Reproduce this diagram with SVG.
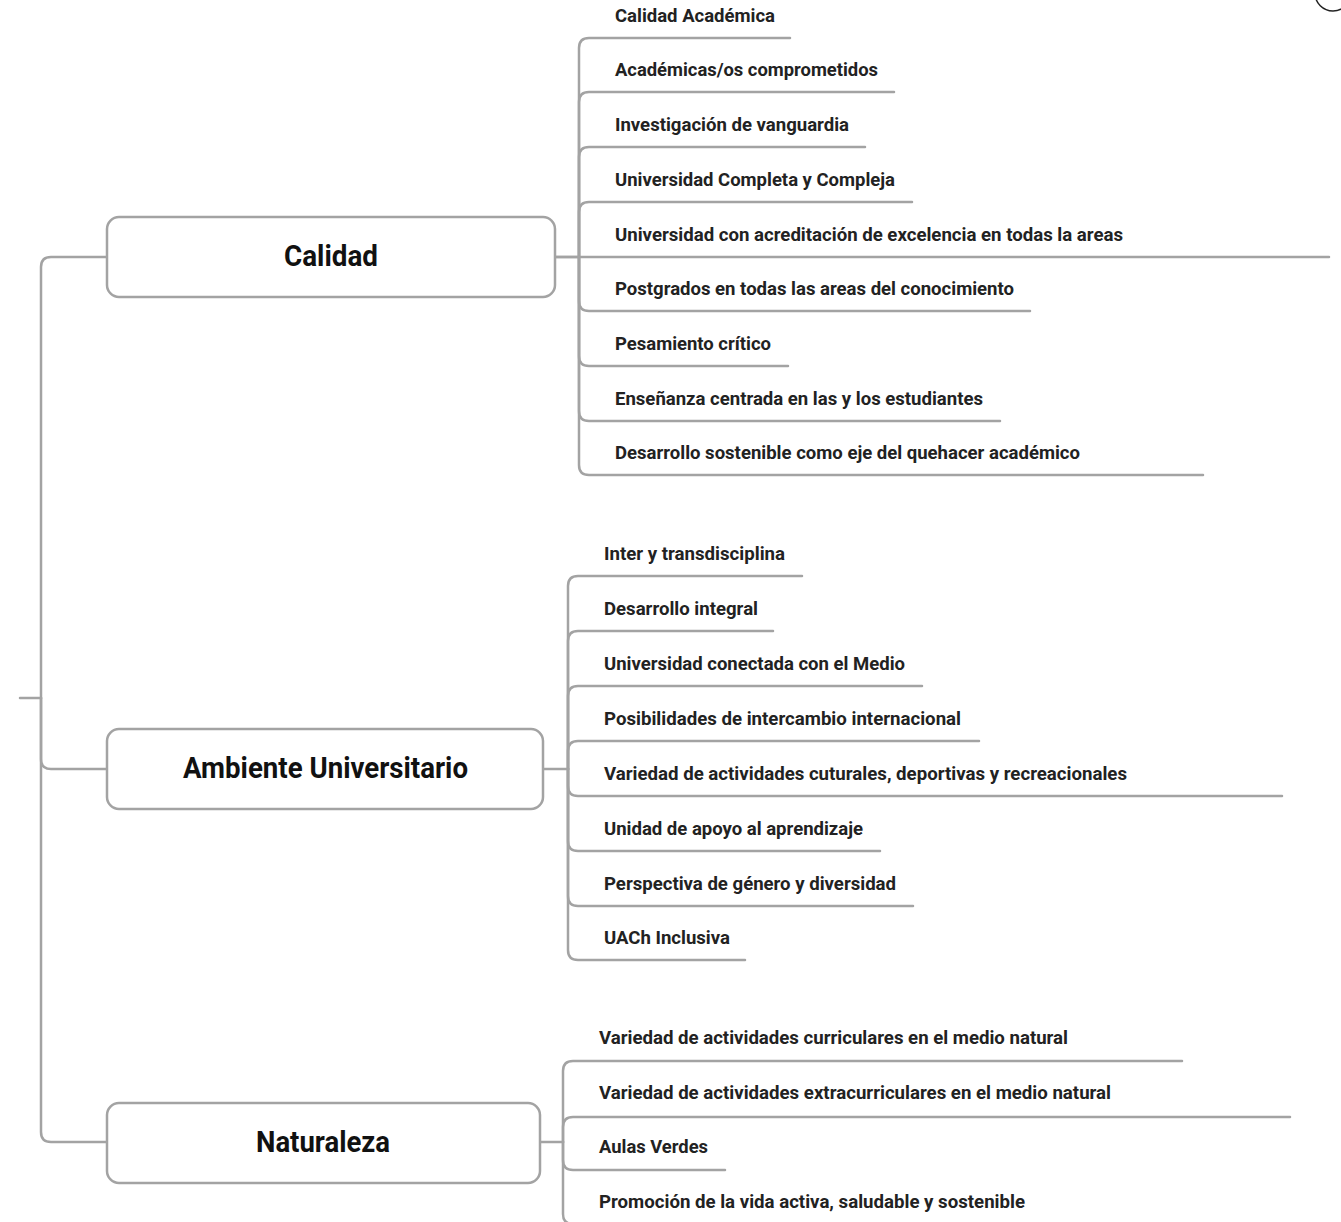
<svg xmlns="http://www.w3.org/2000/svg" width="1341" height="1222" viewBox="0 0 1341 1222">
<style>
.bg{fill:#ffffff}
.box{fill:#ffffff;stroke:#a3a3a3;stroke-width:2.5}
.ln{fill:none;stroke:#a3a3a3;stroke-width:2.5;stroke-linecap:round}
.title{font-family:Roboto,"DejaVu Sans Condensed","Liberation Sans",sans-serif;font-weight:bold;font-size:29px;fill:#111;text-anchor:start}
.item{font-family:Roboto,"DejaVu Sans Condensed","Liberation Sans",sans-serif;font-weight:bold;font-size:18px;fill:#222}
</style>
<rect class="bg" x="0" y="0" width="1341" height="1222"/>
<circle cx="1333" cy="-7" r="18" fill="none" stroke="#222" stroke-width="1.5"/>

<g id="connectors">
  <!-- trunk -->
  <path class="ln" d="M20 698 H41"/>
  <path class="ln" d="M41 698 V267 Q41 257 51 257 H107"/>
  <path class="ln" d="M41 698 V759 Q41 769 51 769 H107"/>
  <path class="ln" d="M41 698 V1132 Q41 1142 51 1142 H107"/>
  <!-- Calidad children -->
  <path class="ln" d="M555 257 H579"/>
  <path class="ln" d="M579 257 V48 Q579 38 589 38 H790"/>
  <path class="ln" d="M579 257 V102 Q579 92 589 92 H894"/>
  <path class="ln" d="M579 257 V157 Q579 147 589 147 H865"/>
  <path class="ln" d="M579 257 V212 Q579 202 589 202 H912"/>
  <path class="ln" d="M555 257 H1329"/>
  <path class="ln" d="M579 257 V301 Q579 311 589 311 H1030"/>
  <path class="ln" d="M579 257 V356 Q579 366 589 366 H788"/>
  <path class="ln" d="M579 257 V411 Q579 421 589 421 H1000"/>
  <path class="ln" d="M579 257 V465 Q579 475 589 475 H1203"/>
  <!-- Ambiente children -->
  <path class="ln" d="M543 769 H568"/>
  <path class="ln" d="M568 769 V586 Q568 576 578 576 H802"/>
  <path class="ln" d="M568 769 V641 Q568 631 578 631 H773"/>
  <path class="ln" d="M568 769 V696 Q568 686 578 686 H922"/>
  <path class="ln" d="M568 769 V751 Q568 741 578 741 H979"/>
  <path class="ln" d="M568 769 V786 Q568 796 578 796 H1282"/>
  <path class="ln" d="M568 769 V841 Q568 851 578 851 H880"/>
  <path class="ln" d="M568 769 V896 Q568 906 578 906 H913"/>
  <path class="ln" d="M568 769 V950 Q568 960 578 960 H745"/>
  <!-- Naturaleza children -->
  <path class="ln" d="M540 1142 H563"/>
  <path class="ln" d="M563 1142 V1071 Q563 1061 573 1061 H1182"/>
  <path class="ln" d="M563 1142 V1127 Q563 1117 573 1117 H1290"/>
  <path class="ln" d="M563 1142 V1160 Q563 1170 573 1170 H725"/>
  <path class="ln" d="M563 1142 V1214 Q563 1224 573 1224 H1045"/>
</g>

<g id="node-calidad">
  <rect class="box" x="107" y="217" width="448" height="80" rx="12"/>
  <text class="title" x="284" y="266" textLength="94" lengthAdjust="spacingAndGlyphs">Calidad</text>
</g>
<g id="node-ambiente">
  <rect class="box" x="107" y="729" width="436" height="80" rx="12"/>
  <text class="title" x="183" y="778" textLength="285" lengthAdjust="spacingAndGlyphs">Ambiente Universitario</text>
</g>
<g id="node-naturaleza">
  <rect class="box" x="107" y="1103" width="433" height="80" rx="12"/>
  <text class="title" x="256" y="1152" textLength="134" lengthAdjust="spacingAndGlyphs">Naturaleza</text>
</g>

<g id="calidad-items">
  <text class="item" x="615" y="22" textLength="160" lengthAdjust="spacingAndGlyphs">Calidad Académica</text>
  <text class="item" x="615" y="76" textLength="263" lengthAdjust="spacingAndGlyphs">Académicas/os comprometidos</text>
  <text class="item" x="615" y="131" textLength="234" lengthAdjust="spacingAndGlyphs">Investigación de vanguardia</text>
  <text class="item" x="615" y="186" textLength="280" lengthAdjust="spacingAndGlyphs">Universidad Completa y Compleja</text>
  <text class="item" x="615" y="241" textLength="508" lengthAdjust="spacingAndGlyphs">Universidad con acreditación de excelencia en todas la areas</text>
  <text class="item" x="615" y="295" textLength="399" lengthAdjust="spacingAndGlyphs">Postgrados en todas las areas del conocimiento</text>
  <text class="item" x="615" y="350" textLength="156" lengthAdjust="spacingAndGlyphs">Pesamiento crítico</text>
  <text class="item" x="615" y="405" textLength="368" lengthAdjust="spacingAndGlyphs">Enseñanza centrada en las y los estudiantes</text>
  <text class="item" x="615" y="459" textLength="465" lengthAdjust="spacingAndGlyphs">Desarrollo sostenible como eje del quehacer académico</text>
</g>

<g id="ambiente-items">
  <text class="item" x="604" y="560" textLength="181" lengthAdjust="spacingAndGlyphs">Inter y transdisciplina</text>
  <text class="item" x="604" y="615" textLength="154" lengthAdjust="spacingAndGlyphs">Desarrollo integral</text>
  <text class="item" x="604" y="670" textLength="301" lengthAdjust="spacingAndGlyphs">Universidad conectada con el Medio</text>
  <text class="item" x="604" y="725" textLength="357" lengthAdjust="spacingAndGlyphs">Posibilidades de intercambio internacional</text>
  <text class="item" x="604" y="780" textLength="523" lengthAdjust="spacingAndGlyphs">Variedad de actividades cuturales, deportivas y recreacionales</text>
  <text class="item" x="604" y="835" textLength="259" lengthAdjust="spacingAndGlyphs">Unidad de apoyo al aprendizaje</text>
  <text class="item" x="604" y="890" textLength="292" lengthAdjust="spacingAndGlyphs">Perspectiva de género y diversidad</text>
  <text class="item" x="604" y="944" textLength="126" lengthAdjust="spacingAndGlyphs">UACh Inclusiva</text>
</g>

<g id="naturaleza-items">
  <text class="item" x="599" y="1044" textLength="469" lengthAdjust="spacingAndGlyphs">Variedad de actividades curriculares en el medio natural</text>
  <text class="item" x="599" y="1099" textLength="512" lengthAdjust="spacingAndGlyphs">Variedad de actividades extracurriculares en el medio natural</text>
  <text class="item" x="599" y="1153" textLength="109" lengthAdjust="spacingAndGlyphs">Aulas Verdes</text>
  <text class="item" x="599" y="1208" textLength="426" lengthAdjust="spacingAndGlyphs">Promoción de la vida activa, saludable y sostenible</text>
</g>
</svg>
